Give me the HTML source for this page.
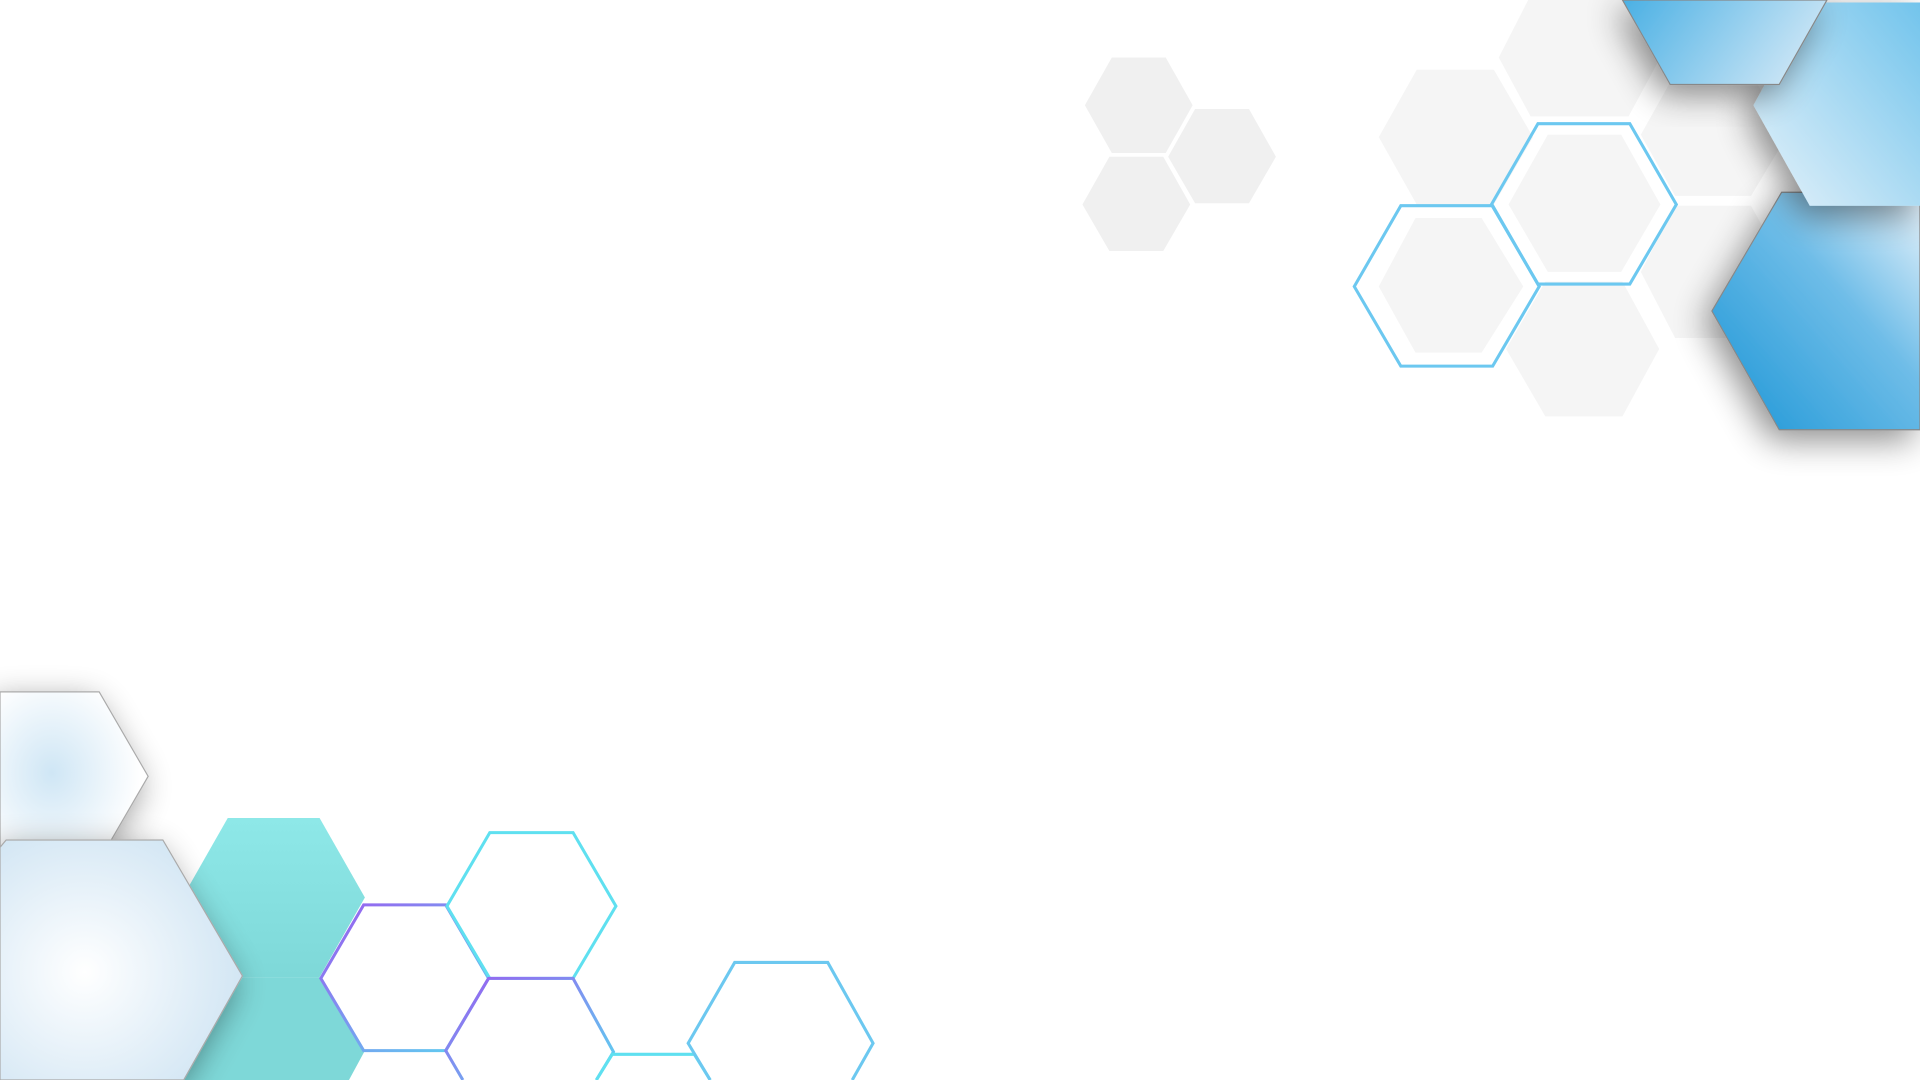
<!DOCTYPE html>
<html><head><meta charset="utf-8"><style>html,body{margin:0;padding:0;background:#fff;overflow:hidden}svg{display:block}</style></head>
<body>
<svg width="1920" height="1080" viewBox="0 0 1568 882" preserveAspectRatio="none" xmlns="http://www.w3.org/2000/svg">
<defs>
<filter id="sh" x="-50%" y="-50%" width="200%" height="200%"><feGaussianBlur in="SourceAlpha" stdDeviation="14"/><feOffset dx="-6" dy="8"/><feComponentTransfer><feFuncA type="linear" slope="0.45"/></feComponentTransfer><feMerge><feMergeNode/><feMergeNode in="SourceGraphic"/></feMerge></filter>
<linearGradient id="b1" x1="0" y1="1" x2="1" y2="0"><stop offset="0" stop-color="#1a95d6"/><stop offset="0.6" stop-color="#6fbde8"/><stop offset="1" stop-color="#e8f3fb"/></linearGradient>
<linearGradient id="b2" x1="0" y1="0" x2="1" y2="0.3"><stop offset="0" stop-color="#4ab0e4"/><stop offset="1" stop-color="#c8e4f5"/></linearGradient>
<linearGradient id="b3" x1="1" y1="0" x2="0" y2="1"><stop offset="0" stop-color="#72c4ec"/><stop offset="1" stop-color="#e6f2fa"/></linearGradient>
<radialGradient id="w1" cx="0.35" cy="0.48" r="0.6"><stop offset="0" stop-color="#cfe6f5"/><stop offset="1" stop-color="#ffffff"/></radialGradient>
<radialGradient id="w2" cx="0.35" cy="0.55" r="0.7"><stop offset="0" stop-color="#ffffff"/><stop offset="1" stop-color="#cfe4f3"/></radialGradient>
<linearGradient id="pc" x1="0" y1="0" x2="1" y2="1"><stop offset="0" stop-color="#9b5cf0"/><stop offset="1" stop-color="#5ad7f0"/></linearGradient>
<linearGradient id="teal" x1="0" y1="0" x2="0" y2="1"><stop offset="0" stop-color="#8ee8e8"/><stop offset="1" stop-color="#7ed8d8"/></linearGradient>
</defs>
<!-- small gray cluster -->
<g fill="#f0f0f0">
<polygon points="908,47 952,47 974,86 952,125 908,125 886,86"/>
<polygon points="976,89 1020,89 1042,128 1020,166 976,166 954,128"/>
<polygon points="906,128 950,128 972,167 950,205 906,205 884,167"/>
</g>
<!-- top right gray -->
<g fill="#f5f5f5">
<polygon points="1157,57 1220,57 1252,112 1220,167 1157,167 1126,112"/>
<polygon points="1248,0 1330,0 1356,47 1330,95 1250,95 1224,47"/>
<polygon points="1262,230 1325,230 1355,285 1325,340 1262,340 1230,285"/>
<polygon points="1368,60 1430,60 1460,110 1430,160 1368,160 1340,110"/>
<polygon points="1368,168 1430,168 1460,222 1430,276 1368,276 1340,222"/>
<polygon points="1264,110 1324,110 1356,167 1324,222 1264,222 1232,167"/>
<polygon points="1156,178 1210,178 1244,234 1210,288 1156,288 1126,234"/>
</g>
<g fill="none" stroke="#6cc8f0" stroke-width="2.5">
<polygon points="1256,101 1331,101 1369,167 1331,232 1256,232 1218,167"/>
<polygon points="1144,168 1219,168 1257,234 1219,299 1144,299 1106,234"/>
</g>
<!-- blue right -->
<polygon points="1455,157 1568,157 1568,351 1453,351 1398,254" fill="url(#b1)" stroke="#888" stroke-width="1" filter="url(#sh)"/>
<polygon points="1478,2 1568,2 1568,168 1478,168 1432,86" fill="url(#b3)" filter="url(#sh)"/>
<polygon points="1325,0 1492,0 1453,69 1364,69" fill="url(#b2)" stroke="#888" stroke-width="1" filter="url(#sh)"/>
<!-- bottom left -->
<polygon points="0,565 81,565 121,634 81,703 0,703" fill="url(#w1)" stroke="#aaa" stroke-width="1" filter="url(#sh)"/>
<polygon points="186,668 261,668 298,733 261,798 186,798 149,733" fill="url(#teal)"/>
<polygon points="198,798 261,798 298,858 285,882 150,882 161,860" fill="#7ed8d8"/>
<polygon points="5,686 133,686 198,797 150,882 0,882 0,692" fill="url(#w2)" stroke="#aaa" stroke-width="1" filter="url(#sh)"/>
<g fill="none" stroke-width="2.5">
<polygon points="297,739 364,739 399,799 364,858 297,858 262,799" stroke="url(#pc)"/>
<polygon points="400,680 468,680 503,740 468,799 400,799 365,740" stroke="#5fe0f0"/>
<polyline points="378,882 364,858 399,799 468,799 501,859 487,882" stroke="url(#pc)"/>
<polyline points="487,882 500,861 567,861 580,882" stroke="#5fe0f0"/>
<polyline points="580,882 562,852 600,786 676,786 713,852 696,882" stroke="#6cc8f0"/>
</g>
</svg>
</body></html>
